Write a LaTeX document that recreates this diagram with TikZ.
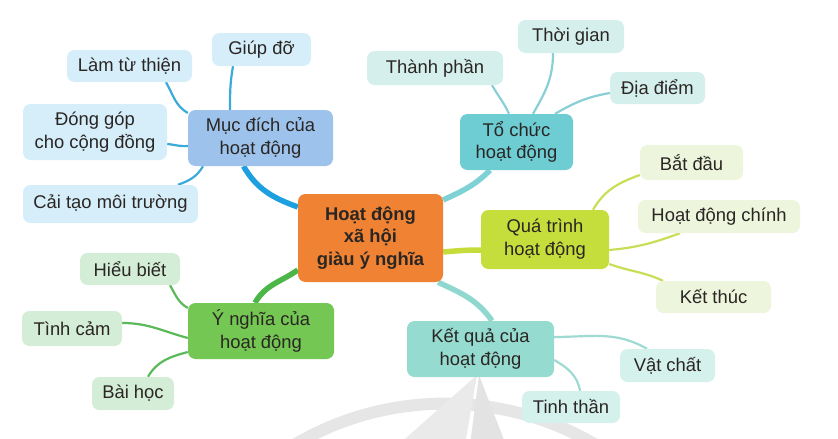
\documentclass[tikz,border=0pt]{standalone}
\usepackage{fontspec}
\setmainfont{Liberation Sans}
\usetikzlibrary{backgrounds}
\definecolor{txt}{HTML}{2A2624}
\definecolor{corec}{HTML}{F08333}
\definecolor{mucc}{HTML}{9DC3EC}
\definecolor{mucsub}{HTML}{D6EEFA}
\definecolor{mucline}{HTML}{1E9FE0}
\definecolor{mucsubline}{HTML}{3AAAD9}
\definecolor{tocc}{HTML}{6DCDD3}
\definecolor{tocsub}{HTML}{D5F0EC}
\definecolor{tocline}{HTML}{7ED2D6}
\definecolor{tocsubline}{HTML}{88D0D5}
\definecolor{quac}{HTML}{C6DE3B}
\definecolor{quasub}{HTML}{EDF5DC}
\definecolor{qualine}{HTML}{C6DC3A}
\definecolor{quasubline}{HTML}{C9DE56}
\definecolor{ketc}{HTML}{95DBD0}
\definecolor{ketsub}{HTML}{D5F1EC}
\definecolor{ketline}{HTML}{90D7CF}
\definecolor{ketsubline}{HTML}{9FDAD2}
\definecolor{yngc}{HTML}{74C753}
\definecolor{yngsub}{HTML}{D4EDD6}
\definecolor{yngline}{HTML}{4CB748}
\definecolor{yngsubline}{HTML}{5BB95A}
\definecolor{wmA}{HTML}{E6E6E6}
\definecolor{wmB}{HTML}{EAEAEA}
\definecolor{wmC}{HTML}{E3E3E3}
\newcommand{\fs}{\fontsize{18.4}{22.8}\selectfont}
\tikzset{
  box/.style={rounded corners=7.5pt, align=center, inner sep=0pt, text=txt, font=\fs},
  mainline/.style={line width=5.5pt},
  subline/.style={line width=2.2pt},
}
\begin{document}
\begin{tikzpicture}[x=1pt,y=-1pt]
\useasboundingbox (0,0) rectangle (838,439);
% watermark
\begin{scope}
\clip (0,0) rectangle (838,439);
\draw[wmA, line width=12pt] (445,699.6) ++(125:296pt) arc[start angle=125, end angle=55, radius=296pt];
\fill[wmB] (477,375) -- (398,445) -- (465,445) -- cycle;
\fill[wmC] (479,375) -- (470,445) -- (506,445) -- cycle;
\end{scope}
% nodes
\node[box, fill=corec, minimum width=145pt, minimum height=88pt, font=\fs\bfseries] (goc) at (370.5,238) {Hoạt động\\xã hội\\giàu ý nghĩa};
% Muc dich
\node[box, fill=mucc, minimum width=145pt, minimum height=56pt] (muc) at (260.5,138) {Mục đích của\\hoạt động};
\node[box, fill=mucsub, minimum width=99pt, minimum height=33pt] (giup) at (261.5,49.5) {Giúp đỡ};
\node[box, fill=mucsub, minimum width=125pt, minimum height=32pt] (lam) at (129.5,66) {Làm từ thiện};
\node[box, fill=mucsub, minimum width=144pt, minimum height=56pt] (dong) at (95,132) {Đóng góp\\cho cộng đồng};
\node[box, fill=mucsub, minimum width=175pt, minimum height=38pt] (cai) at (110.5,204) {Cải tạo môi trường};
% To chuc
\node[box, fill=tocc, minimum width=113pt, minimum height=56pt] (toc) at (516.5,142) {Tổ chức\\hoạt động};
\node[box, fill=tocsub, minimum width=136pt, minimum height=34pt] (thanh) at (435,68) {Thành phần};
\node[box, fill=tocsub, minimum width=106pt, minimum height=33pt] (thoi) at (571,36.5) {Thời gian};
\node[box, fill=tocsub, minimum width=95pt, minimum height=32pt] (dia) at (657.5,88) {Địa điểm};
% Qua trinh
\node[box, fill=quac, minimum width=128pt, minimum height=59pt] (qua) at (545,239.5) {Quá trình\\hoạt động};
\node[box, fill=quasub, minimum width=103pt, minimum height=35pt] (bat) at (691.5,162.5) {Bắt đầu};
\node[box, fill=quasub, minimum width=162pt, minimum height=33pt] (hdc) at (719,216.5) {Hoạt động chính};
\node[box, fill=quasub, minimum width=115pt, minimum height=32pt] (kt) at (713.5,297) {Kết thúc};
% Ket qua
\node[box, fill=ketc, minimum width=147pt, minimum height=56pt] (ket) at (480.5,349) {Kết quả của\\hoạt động};
\node[box, fill=ketsub, minimum width=95pt, minimum height=33pt] (vat) at (667.5,365.5) {Vật chất};
\node[box, fill=ketsub, minimum width=98pt, minimum height=32pt] (tinh) at (571,407) {Tinh thần};
% Y nghia
\node[box, fill=yngc, minimum width=146pt, minimum height=56pt] (yng) at (261,331) {Ý nghĩa của\\hoạt động};
\node[box, fill=yngsub, minimum width=100pt, minimum height=32pt] (hieu) at (130,269) {Hiểu biết};
\node[box, fill=yngsub, minimum width=100pt, minimum height=35pt] (tcam) at (72,328.5) {Tình cảm};
\node[box, fill=yngsub, minimum width=82pt, minimum height=33pt] (bai) at (133,393.5) {Bài học};
% connectors
\begin{pgfonlayer}{background}
\draw[mainline, mucline] ([xshift=-17pt]muc.south) to[out=-60,in=160] ([yshift=31pt]goc.west);
\draw[mainline, tocline] ([xshift=-26.5pt]toc.south) to[out=-135,in=25] ([yshift=38pt]goc.east);
\draw[mainline, qualine] ([yshift=-14pt]goc.east) to[out=5,in=180] ([yshift=-10.5pt]qua.west);
\draw[mainline, ketline] ([xshift=67.5pt]goc.south) to[out=-25,in=125] ([xshift=11.5pt]ket.north);
\draw[mainline, yngline] ([yshift=-32pt]goc.west) to[out=215,in=60] ([xshift=-6pt]yng.north);
% muc subs
\draw[subline, mucsubline] ([xshift=-28.5pt]giup.south) to[out=-100,in=90] ([xshift=-30.5pt]muc.north);
\draw[subline, mucsubline] ([xshift=36.5pt]lam.south) to[out=-60,in=150] ([yshift=25pt]muc.west);
\draw[subline, mucsubline] ([yshift=-12pt]dong.east) to[out=-5,in=185] ([yshift=-8pt]muc.west);
\draw[subline, mucsubline] ([xshift=67.5pt]cai.north) to[out=20,in=-120] ([xshift=-57.5pt]muc.south);
% toc subs
\draw[subline, tocsubline] ([xshift=57pt]thanh.south) to[out=-60,in=115] ([xshift=-7.5pt]toc.north);
\draw[subline, tocsubline] ([xshift=-18pt]thoi.south) to[out=-90,in=60] ([xshift=16.5pt]toc.north);
\draw[subline, tocsubline] ([yshift=-5pt]dia.west) to[out=190,in=30] ([xshift=38.5pt]toc.north);
% qua subs
\draw[subline, quasubline] ([yshift=-12.5pt]bat.west) to[out=200,in=60] ([xshift=48pt]qua.north);
\draw[subline, quasubline] ([yshift=-10.5pt]qua.east) to[out=5,in=200] ([xshift=-39pt]hdc.south);
\draw[subline, quasubline] ([yshift=-24.5pt]qua.east) to[out=-20,in=155] ([xshift=-50.5pt]kt.north);
% ket subs
\draw[subline, ketsubline] ([yshift=12pt]ket.east) to[out=0,in=150] ([xshift=-20.5pt]vat.north);
\draw[subline, ketsubline] ([yshift=-11pt]ket.east) to[out=-30,in=100] ([xshift=9pt]tinh.north);
% yng subs
\draw[subline, yngsubline] ([xshift=40pt]hieu.south) to[out=-60,in=150] ([yshift=23pt]yng.west);
\draw[subline, yngsubline] ([yshift=5.5pt]tcam.east) to[out=0,in=165] ([yshift=-7pt]yng.west);
\draw[subline, yngsubline] ([xshift=15pt]bai.north) to[out=60,in=195] ([yshift=-21pt]yng.west);
\end{pgfonlayer}
\end{tikzpicture}
\end{document}
